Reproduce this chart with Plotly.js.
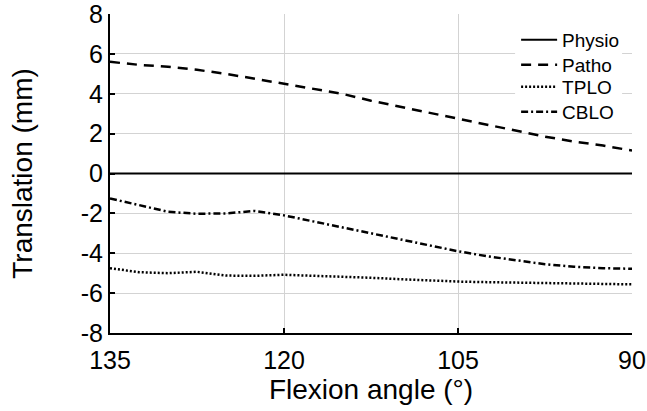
<!DOCTYPE html>
<html>
<head>
<meta charset="utf-8">
<script src="https://cdn.plot.ly/plotly-3.0.1.min.js"></script>
<style>html,body{margin:0;padding:0;background:#fff;}#chart{width:647px;height:411px;}</style>
</head>
<body>
<div id="chart"></div>
<script>
var angles = [135, 132.5, 130, 127.5, 125, 122.5, 120, 117.5, 115, 112.5, 110, 107.5, 105, 102.5, 100, 97.5, 95, 92.5, 90];
var physio = [0, 0, 0, 0, 0, 0, 0, 0, 0, 0, 0, 0, 0, 0, 0, 0, 0, 0, 0];
var patho = [5.6, 5.45, 5.35, 5.2, 5.0, 4.75, 4.5, 4.25, 4.0, 3.65, 3.35, 3.05, 2.75, 2.45, 2.15, 1.85, 1.6, 1.4, 1.15];
var tplo = [-4.75, -4.95, -5.0, -4.93, -5.12, -5.13, -5.08, -5.12, -5.17, -5.23, -5.3, -5.37, -5.42, -5.45, -5.47, -5.49, -5.5, -5.53, -5.56];
var cblo = [-1.25, -1.6, -1.92, -2.02, -2.0, -1.88, -2.1, -2.4, -2.7, -3.0, -3.3, -3.6, -3.9, -4.15, -4.35, -4.55, -4.68, -4.75, -4.78];
var xTicks = [135, 120, 105, 90];
var yTicks = [-8, -6, -4, -2, 0, 2, 4, 6, 8];

var traces = [
  {x: angles, y: physio, name: 'Physio', legend: 'legend', mode: 'lines', line: {color: '#000', width: 2, dash: 'solid'}},
  {x: angles, y: patho, name: 'Patho', legend: 'legend2', mode: 'lines', line: {color: '#000', width: 2.5, dash: '10px,7px'}},
  {x: angles, y: tplo, name: 'TPLO', legend: 'legend3', mode: 'lines', line: {color: '#000', width: 2.5, dash: '2px,2px'}},
  {x: angles, y: cblo, name: 'CBLO', legend: 'legend4', mode: 'lines', line: {color: '#000', width: 2.5, dash: '7px,3px,2px,3px'}}
];

var font = 'Liberation Sans, Arial, sans-serif';
function leg(yc) {
  return {x: 0.778, xanchor: 'left', y: yc, yanchor: 'middle', bgcolor: 'rgba(0,0,0,0)', borderwidth: 0,
          font: {family: font, size: 19, color: '#000'}, itemwidth: 36};
}
var layout = {
  width: 647, height: 411,
  margin: {l: 110, r: 15, t: 14, b: 78},
  paper_bgcolor: '#fff', plot_bgcolor: '#fff',
  font: {family: font, color: '#000'},
  showlegend: true,
  legend: leg(0.9185),
  legend2: leg(0.8401),
  legend3: leg(0.7712),
  legend4: leg(0.6928),
  shapes: [{type: 'rect', xref: 'paper', yref: 'paper', x0: 0.776, x1: 0.981, y0: 0.652, y1: 0.956,
            fillcolor: '#fff', line: {width: 0}, layer: 'above'}],
  xaxis: {
    range: [135, 90], tickvals: xTicks, ticktext: xTicks.map(String),
    showgrid: true, gridcolor: '#d3d3d3', gridwidth: 1,
    zeroline: false, showline: true, linecolor: '#000', linewidth: 2,
    ticks: 'inside', ticklen: 5, tickwidth: 2, tickcolor: '#000',
    ticklabelstandoff: 4, ticklabeloverflow: 'allow',
    tickfont: {family: font, size: 25, color: '#000'},
    title: {text: 'Flexion angle (°)', font: {family: font, size: 28, color: '#000'}, standoff: 3},
    automargin: false
  },
  yaxis: {
    range: [-8, 8], tickvals: yTicks, ticktext: yTicks.map(String),
    showgrid: true, gridcolor: '#d3d3d3', gridwidth: 1,
    zeroline: false, showline: true, linecolor: '#000', linewidth: 2,
    ticks: 'inside', ticklen: 5, tickwidth: 2, tickcolor: '#000',
    ticklabeloverflow: 'allow',
    tickfont: {family: font, size: 25, color: '#000'},
    title: {text: 'Translation (mm)', font: {family: font, size: 28, color: '#000'}, standoff: 40},
    automargin: false
  }
};
Plotly.newPlot('chart', traces, layout, {displayModeBar: false, staticPlot: true});
</script>
</body>
</html>
